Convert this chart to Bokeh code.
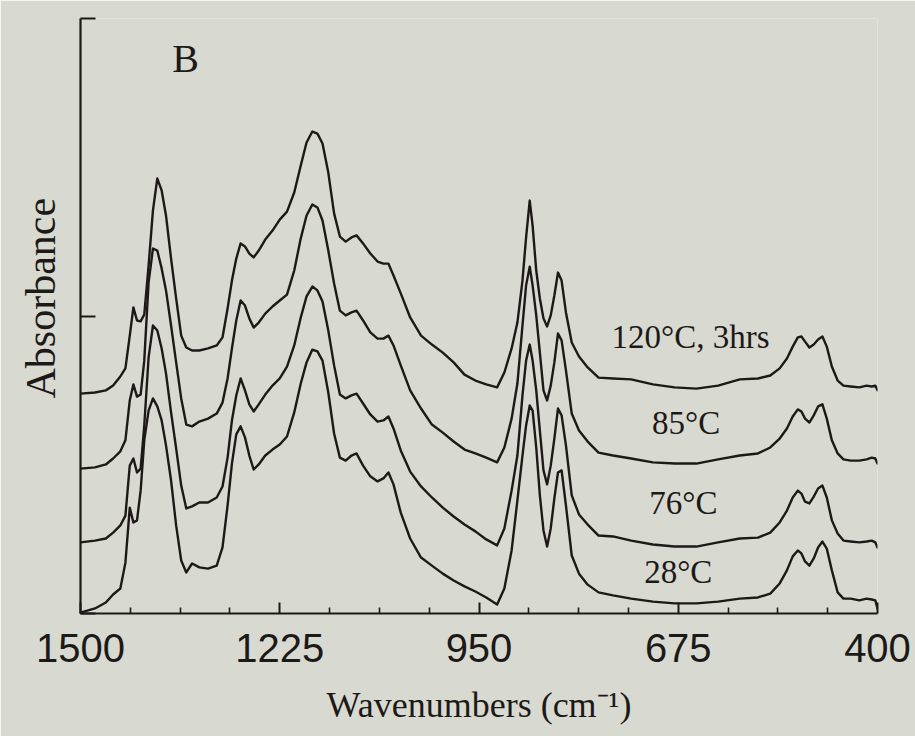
import numpy as np
from bokeh.plotting import figure
from bokeh.models import Range1d, FixedTicker, Label, CustomJSTickFormatter, Title
from bokeh.embed import file_html
from bokeh.resources import INLINE

# ---------------- data ----------------
wavenumber = [1500, 1480, 1465, 1455, 1445, 1438, 1432, 1427, 1422, 1417,
              1412, 1406, 1400, 1394, 1388, 1382, 1375, 1368, 1361, 1354,
              1346, 1336, 1324, 1312, 1304, 1297, 1291, 1285, 1279, 1273,
              1267, 1261, 1254, 1245, 1235, 1225, 1215, 1205, 1196, 1188,
              1180, 1173, 1166, 1158, 1150, 1142, 1134, 1126, 1119, 1110,
              1100, 1090, 1082, 1075, 1068, 1058, 1045, 1030, 1015, 1000,
              985, 970, 955, 940, 925, 915, 905, 897, 890, 885,
              880, 876, 871, 866, 861, 856, 851, 846, 841, 836,
              830, 822, 812, 800, 785, 765, 740, 710, 680, 650,
              620, 590, 565, 548, 535, 525, 517, 510, 505, 500,
              494, 488, 482, 476, 470, 463, 455, 447, 437, 425,
              415, 408, 403, 400]

abs_120C_3hrs = [0.739, 0.743, 0.750, 0.766, 0.797, 0.824, 0.934, 1.029, 0.985, 0.982,
                 1.005, 1.170, 1.355, 1.462, 1.422, 1.338, 1.193, 1.059, 0.934, 0.894,
                 0.884, 0.884, 0.891, 0.901, 0.928, 1.025, 1.119, 1.193, 1.244, 1.234,
                 1.210, 1.197, 1.220, 1.257, 1.287, 1.324, 1.351, 1.415, 1.506, 1.583,
                 1.620, 1.613, 1.580, 1.482, 1.345, 1.267, 1.250, 1.264, 1.271, 1.244,
                 1.210, 1.183, 1.176, 1.176, 1.136, 1.076, 0.995, 0.934, 0.904, 0.877,
                 0.844, 0.803, 0.783, 0.770, 0.760, 0.810, 0.891, 0.978, 1.119, 1.264,
                 1.388, 1.304, 1.153, 1.059, 0.992, 0.965, 1.002, 1.069, 1.146, 1.119,
                 1.012, 0.911, 0.864, 0.827, 0.793, 0.790, 0.787, 0.770, 0.760, 0.756,
                 0.766, 0.787, 0.790, 0.800, 0.824, 0.857, 0.897, 0.928, 0.931, 0.914,
                 0.894, 0.904, 0.921, 0.931, 0.897, 0.830, 0.783, 0.766, 0.763, 0.760,
                 0.766, 0.763, 0.766, 0.750]

abs_85C = [0.487, 0.491, 0.501, 0.521, 0.545, 0.582, 0.716, 0.770, 0.729, 0.736,
           0.850, 1.113, 1.227, 1.220, 1.160, 1.086, 0.968, 0.844, 0.723, 0.635,
           0.629, 0.645, 0.655, 0.672, 0.709, 0.790, 0.891, 0.985, 1.052, 1.035,
           0.992, 0.961, 0.978, 1.008, 1.032, 1.052, 1.072, 1.153, 1.261, 1.338,
           1.375, 1.365, 1.321, 1.220, 1.109, 1.018, 1.002, 1.012, 1.018, 0.985,
           0.945, 0.924, 0.924, 0.934, 0.901, 0.834, 0.750, 0.689, 0.635, 0.608,
           0.578, 0.551, 0.538, 0.524, 0.508, 0.558, 0.655, 0.773, 0.968, 1.103,
           1.166, 1.103, 1.002, 0.877, 0.750, 0.716, 0.766, 0.844, 0.941, 0.918,
           0.817, 0.672, 0.615, 0.578, 0.541, 0.531, 0.521, 0.508, 0.504, 0.504,
           0.518, 0.531, 0.538, 0.558, 0.588, 0.622, 0.662, 0.686, 0.679, 0.655,
           0.642, 0.666, 0.696, 0.703, 0.655, 0.582, 0.538, 0.518, 0.514, 0.514,
           0.518, 0.524, 0.521, 0.504]

abs_76C = [0.239, 0.245, 0.252, 0.272, 0.296, 0.329, 0.497, 0.521, 0.474, 0.487,
           0.632, 0.861, 0.968, 0.951, 0.891, 0.807, 0.676, 0.555, 0.430, 0.353,
           0.360, 0.373, 0.373, 0.390, 0.427, 0.524, 0.649, 0.733, 0.790, 0.750,
           0.703, 0.679, 0.703, 0.736, 0.766, 0.790, 0.830, 0.901, 0.995, 1.066,
           1.099, 1.086, 1.049, 0.951, 0.834, 0.736, 0.723, 0.733, 0.739, 0.706,
           0.669, 0.645, 0.649, 0.662, 0.622, 0.548, 0.477, 0.427, 0.390, 0.356,
           0.326, 0.299, 0.276, 0.249, 0.229, 0.286, 0.413, 0.531, 0.733, 0.850,
           0.904, 0.850, 0.750, 0.615, 0.481, 0.434, 0.497, 0.588, 0.689, 0.666,
           0.565, 0.397, 0.333, 0.299, 0.262, 0.259, 0.245, 0.232, 0.225, 0.225,
           0.239, 0.252, 0.255, 0.272, 0.306, 0.346, 0.390, 0.413, 0.403, 0.376,
           0.370, 0.393, 0.420, 0.430, 0.390, 0.313, 0.269, 0.245, 0.242, 0.239,
           0.242, 0.245, 0.239, 0.222]

abs_28C = [0.003, 0.017, 0.037, 0.064, 0.084, 0.171, 0.356, 0.306, 0.313, 0.413,
           0.582, 0.682, 0.723, 0.696, 0.649, 0.565, 0.447, 0.296, 0.178, 0.138,
           0.168, 0.155, 0.151, 0.161, 0.222, 0.363, 0.504, 0.602, 0.629, 0.592,
           0.531, 0.484, 0.501, 0.531, 0.551, 0.568, 0.595, 0.676, 0.773, 0.844,
           0.887, 0.881, 0.850, 0.743, 0.605, 0.524, 0.514, 0.531, 0.538, 0.497,
           0.461, 0.444, 0.454, 0.474, 0.434, 0.339, 0.252, 0.188, 0.161, 0.134,
           0.111, 0.091, 0.074, 0.054, 0.030, 0.084, 0.212, 0.380, 0.531, 0.632,
           0.699, 0.682, 0.558, 0.397, 0.279, 0.225, 0.286, 0.387, 0.474, 0.481,
           0.363, 0.195, 0.134, 0.097, 0.071, 0.061, 0.050, 0.040, 0.034, 0.034,
           0.040, 0.050, 0.054, 0.067, 0.101, 0.145, 0.192, 0.212, 0.202, 0.175,
           0.161, 0.185, 0.222, 0.242, 0.218, 0.145, 0.071, 0.050, 0.050, 0.044,
           0.050, 0.047, 0.044, 0.017]

series_labels = ["120°C, 3hrs", "85°C", "76°C", "28°C"]
x_tick_values = [1500, 1225, 950, 675, 400]
y_tick_values = [0, 1, 2]

# ---------------- styling ----------------
BG = "#d8dad2"
INK = "#1d1917"
SERIF = "Liberation Serif"
SANS = "Liberation Sans"

p = figure(width=915, height=736,
           x_range=Range1d(1500, 400), y_range=Range1d(0, 2),
           output_backend="svg", toolbar_location=None,
           min_border_left=80, min_border_right=38,
           min_border_top=18, min_border_bottom=123,
           background_fill_color=BG, border_fill_color=BG)
p.outline_line_color = None
p.xgrid.visible = False
p.ygrid.visible = False

for ys in [abs_120C_3hrs, abs_85C, abs_76C, abs_28C]:
    p.line(wavenumber, ys, line_color=INK, line_width=2.4,
           line_join="round", line_cap="round")

# x axis
xa = p.xaxis[0]
minor_step = (x_tick_values[0] - x_tick_values[1]) / 4
minor = [x_tick_values[0] - minor_step * k for k in range(17) if k % 4 != 0]
xa.ticker = FixedTicker(ticks=x_tick_values, minor_ticks=minor)
xa.axis_line_color = INK
xa.axis_line_width = 2.2
xa.major_tick_line_color = INK
xa.major_tick_line_width = 2
xa.major_tick_in = 11
xa.major_tick_out = 0
xa.minor_tick_line_color = INK
xa.minor_tick_line_width = 1.6
xa.minor_tick_in = 6
xa.minor_tick_out = 0
xa.major_label_text_font = SANS
xa.major_label_text_font_size = "40px"
xa.major_label_text_color = INK
xa.major_label_standoff = 20
xa.axis_label = "Wavenumbers (cm\u207b\u00b9)"
xa.axis_label_text_font = SERIF
xa.axis_label_text_font_size = "36px"
xa.axis_label_text_font_style = "normal"
xa.axis_label_text_color = INK
xa.axis_label_standoff = 20

# y axis (no numbers)
ya = p.yaxis[0]
ya.ticker = FixedTicker(ticks=y_tick_values, minor_ticks=[])
ya.formatter = CustomJSTickFormatter(code="return ''")
ya.axis_line_color = INK
ya.axis_line_width = 2.2
ya.major_tick_line_color = INK
ya.major_tick_line_width = 2
ya.major_tick_in = 15
ya.major_tick_out = 0
ya.minor_tick_in = 0
ya.minor_tick_out = 0
ya.major_label_standoff = 0

# y-axis title as a left-side title (allows shifting it along the axis)
ytitle = Title(text="Absorbance", align="left", offset=215,
               vertical_align="top",
               text_font=SERIF, text_font_size="42px",
               text_font_style="normal", text_color=INK, standoff=30)
p.add_layout(ytitle, "left")

p.add_layout(Label(x=1355, y=1.866, text="B", text_align="center",
                   text_baseline="middle", text_font=SERIF,
                   text_font_size="40px", text_color=INK))

label_pos = [(658, 0.928), (664, 0.639), (668, 0.373), (675, 0.138)]
for txt, (lx, ly) in zip(series_labels, label_pos):
    p.add_layout(Label(x=lx, y=ly, text=txt, text_align="center",
                       text_baseline="middle", text_font=SERIF,
                       text_font_size="33px", text_color=INK))

open("out.html", "w").write(file_html(p, INLINE))
